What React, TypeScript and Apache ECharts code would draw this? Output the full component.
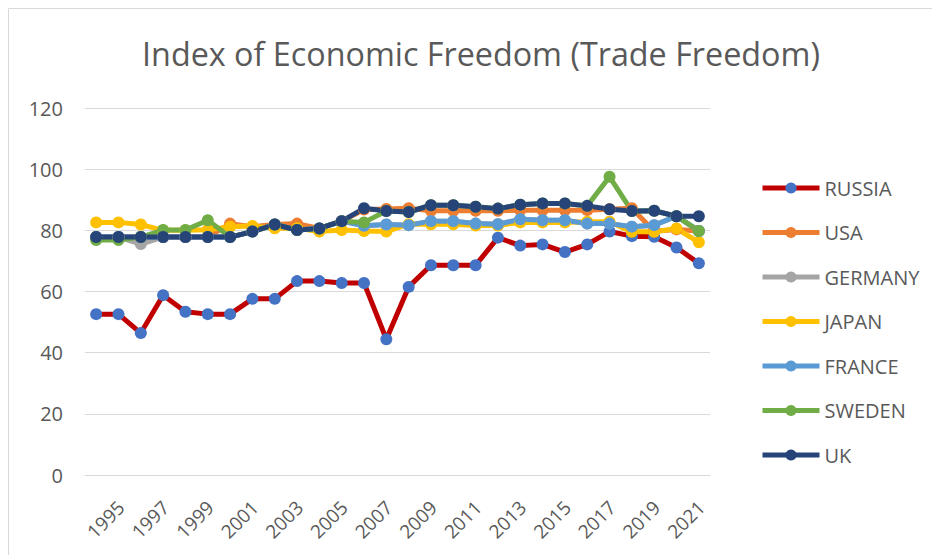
import React, { useEffect, useRef } from "react";
import * as echarts from "echarts";

const years = [
  "1995", "1996", "1997", "1998", "1999", "2000", "2001", "2002", "2003", "2004",
  "2005", "2006", "2007", "2008", "2009", "2010", "2011", "2012", "2013", "2014",
  "2015", "2016", "2017", "2018", "2019", "2020", "2021", "2022",
];

const russia = [52.6, 52.6, 46.4, 58.8, 53.4, 52.6, 52.6, 57.6, 57.6, 63.4, 63.4, 62.8, 62.8, 44.4, 61.5, 68.6, 68.6, 68.6, 77.6, 75.0, 75.4, 72.9, 75.4, 79.6, 78.1, 77.9, 74.4, 69.2];
const usa = [77.8, 77.8, 77.8, 77.8, 77.8, 77.8, 82.2, 81.2, 81.9, 82.2, 80.6, 83.0, 86.8, 87.0, 87.2, 86.4, 86.4, 86.4, 86.4, 86.6, 86.6, 86.6, 86.6, 86.9, 87.2, 79.7, 80.3, 79.8];
const germany = [77.8, 77.8, 75.5, 77.8, 77.8, 77.8, 77.8, 79.6, 81.9, 80.1, 80.6, 83.0, 81.5, 81.9, 81.7, 83.0, 83.0, 82.2, 82.0, 83.6, 83.3, 83.3, 82.2, 82.2, 81.2, 81.7, 84.6, 79.8];
const japan = [82.6, 82.6, 81.9, 80.0, 80.0, 80.2, 81.2, 81.4, 80.7, 80.7, 79.6, 80.1, 79.8, 79.6, 82.0, 82.0, 82.0, 81.6, 81.6, 82.6, 82.6, 82.6, 82.8, 82.8, 79.5, 79.5, 80.6, 76.1];
const france = [77.8, 77.8, 77.8, 77.8, 77.8, 77.8, 77.8, 79.6, 81.9, 80.1, 80.6, 83.0, 81.5, 81.9, 81.7, 83.0, 83.0, 82.2, 82.0, 83.6, 83.3, 83.3, 82.2, 82.2, 81.2, 81.7, 84.6, 79.8];
const sweden = [76.8, 76.8, 77.8, 80.1, 80.1, 83.3, 77.8, 79.6, 81.9, 80.1, 80.6, 83.0, 82.6, 86.3, 86.0, 88.2, 88.2, 87.7, 87.1, 88.4, 88.8, 88.8, 88.0, 97.5, 86.3, 86.4, 84.6, 79.8];
const uk = [77.8, 77.8, 77.8, 77.8, 77.8, 77.8, 77.8, 79.6, 81.9, 80.1, 80.6, 83.0, 87.2, 86.3, 86.0, 88.2, 88.2, 87.7, 87.1, 88.4, 88.8, 88.8, 88.0, 86.9, 86.3, 86.4, 84.6, 84.6];

const yTicks = [0, 20, 40, 60, 80, 100, 120];

const seriesDefs = [
  { name: "RUSSIA", data: russia, line: "#C00000", marker: "#4472C4" },
  { name: "USA", data: usa, line: "#ED7D31", marker: "#ED7D31" },
  { name: "GERMANY", data: germany, line: "#A5A5A5", marker: "#A5A5A5" },
  { name: "JAPAN", data: japan, line: "#FFC000", marker: "#FFC000" },
  { name: "FRANCE", data: france, line: "#5B9BD5", marker: "#5B9BD5" },
  { name: "SWEDEN", data: sweden, line: "#70AD47", marker: "#70AD47" },
  { name: "UK", data: uk, line: "#264478", marker: "#264478" },
];

const FONT = "'Open Sans', sans-serif";
const TEXT = "#595959";

export default function App() {
  const ref = useRef<HTMLDivElement>(null);
  useEffect(() => {
    document.body.style.margin = "0";
    if (!ref.current) return;
    const chart = echarts.init(ref.current, null, { renderer: "svg" });
    chart.setOption({
      animation: false,
      backgroundColor: "#ffffff",
      title: {
        text: "Index of Economic Freedom (Trade Freedom)",
        left: 476,
        top: 32,
        textAlign: "center",
        textStyle: { fontFamily: FONT, fontSize: 32.3, fontWeight: "normal", color: TEXT },
      },
      graphic: [
        {
          type: "rect",
          shape: { x: 8.5, y: 8.5, width: 940, height: 560 },
          style: { fill: "none", stroke: "#D9D9D9", lineWidth: 1 },
          silent: true,
        },
      ],
      legend: {
        orient: "vertical",
        left: 755,
        top: 173,
        itemWidth: 57,
        itemHeight: 14,
        itemGap: 24.5,
        lineStyle: { width: 5 },
        textStyle: { fontFamily: FONT, fontSize: 20, color: TEXT, lineHeight: 20 },
        data: seriesDefs.map((s) => s.name),
      },
      grid: { left: 85, right: 222, top: 108, bottom: 80, containLabel: false, outerBoundsMode: "none" },
      xAxis: {
        type: "category",
        data: years,
        boundaryGap: true,
        axisLine: { show: true, lineStyle: { color: "#D9D9D9", width: 1 } },
        axisTick: { show: false },
        axisLabel: {
          interval: 1,
          rotate: 45,
          margin: 35,
          align: "center",
          verticalAlign: "top",
          padding: [4, 0, 0, 0],
          fontFamily: FONT,
          fontSize: 19,
          color: TEXT,
        },
      },
      yAxis: {
        type: "value",
        min: yTicks[0],
        max: yTicks[yTicks.length - 1],
        interval: 20,
        axisLine: { show: false },
        axisTick: { show: false },
        axisLabel: { fontFamily: FONT, fontSize: 20, color: TEXT, margin: 22 },
        splitLine: { lineStyle: { color: "#D9D9D9", width: 1 } },
      },
      series: seriesDefs.map((s) => ({
        name: s.name,
        type: "line",
        data: s.data,
        symbol: "circle",
        symbolSize: 12,
        lineStyle: { color: s.line, width: 5 },
        itemStyle: { color: s.marker },
      })),
    });
    return () => chart.dispose();
  }, []);
  return <div ref={ref} style={{ width: 932, height: 555 }} />;
}
